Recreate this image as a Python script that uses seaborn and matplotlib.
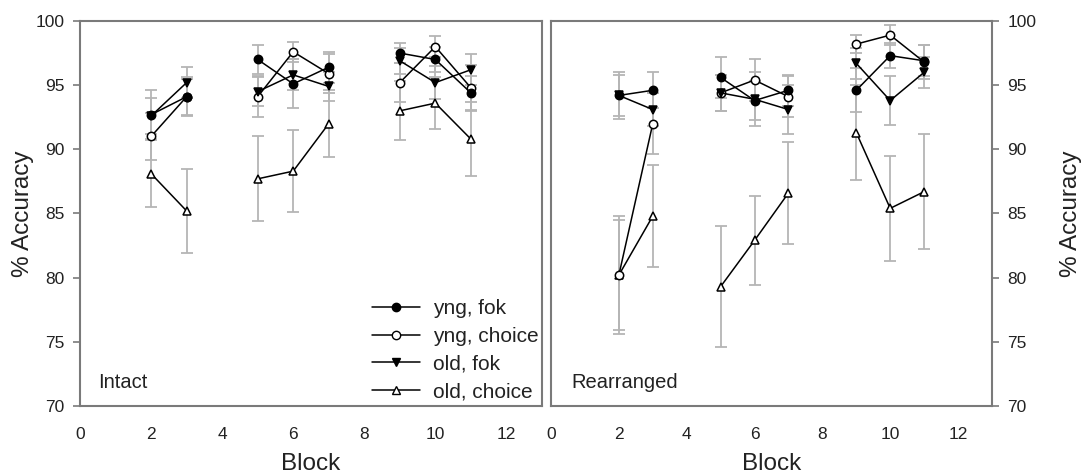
import numpy as np
import pandas as pd
import matplotlib
matplotlib.use("Agg")
import matplotlib.pyplot as plt
from matplotlib.lines import Line2D
import seaborn as sns

# --- data ---
blocks = [2, 3, 5, 6, 7, 9, 10, 11]
segments = [0, 0, 1, 1, 1, 2, 2, 2]
series_names = ["yng, fok", "yng, choice", "old, fok", "old, choice"]

# Intact
intact_yng_fok = [92.7, 94.1, 97.0, 95.1, 96.4, 97.5, 97.0, 94.4]
intact_yng_choice = [91.0, 94.1, 94.1, 97.6, 95.9, 95.2, 98.0, 94.8]
intact_old_fok = [92.6, 95.2, 94.5, 95.8, 94.9, 96.9, 95.2, 96.2]
intact_old_choice = [88.1, 85.2, 87.7, 88.3, 92.0, 93.0, 93.6, 90.8]
intact_yng_fok_err = [1.9, 1.4, 1.1, 1.9, 1.2, 0.8, 1.0, 1.3]
intact_yng_choice_err = [1.8, 1.5, 1.6, 0.8, 1.5, 1.5, 0.8, 1.8]
intact_old_fok_err = [1.4, 1.2, 1.1, 1.2, 1.1, 1.0, 1.3, 1.2]
intact_old_choice_err = [2.6, 3.3, 3.3, 3.2, 2.6, 2.3, 2.0, 2.9]

# Rearranged
rearr_yng_fok = [94.2, 94.6, 95.6, 93.8, 94.6, 94.6, 97.3, 96.9]
rearr_yng_choice = [80.2, 92.0, 94.4, 95.4, 94.1, 98.2, 98.9, 96.8]
rearr_old_fok = [94.2, 93.1, 94.4, 93.9, 93.1, 96.7, 93.8, 96.0]
rearr_old_choice = [80.2, 84.8, 79.3, 82.9, 86.6, 91.3, 85.4, 86.7]
rearr_yng_fok_err = [1.8, 1.4, 1.6, 1.5, 1.2, 1.7, 1.0, 1.2]
rearr_yng_choice_err = [4.3, 2.4, 1.4, 1.6, 1.6, 0.7, 0.8, 1.3]
rearr_old_fok_err = [1.6, 1.3, 1.4, 2.1, 1.9, 1.2, 1.9, 1.2]
rearr_old_choice_err = [4.6, 4.0, 4.7, 3.5, 4.0, 3.7, 4.1, 4.5]

panels = {
    "Intact": {
        "yng, fok": (intact_yng_fok, intact_yng_fok_err),
        "yng, choice": (intact_yng_choice, intact_yng_choice_err),
        "old, fok": (intact_old_fok, intact_old_fok_err),
        "old, choice": (intact_old_choice, intact_old_choice_err),
    },
    "Rearranged": {
        "yng, fok": (rearr_yng_fok, rearr_yng_fok_err),
        "yng, choice": (rearr_yng_choice, rearr_yng_choice_err),
        "old, fok": (rearr_old_fok, rearr_old_fok_err),
        "old, choice": (rearr_old_choice, rearr_old_choice_err),
    },
}
panel_text_x = {"Intact": 0.5, "Rearranged": 0.6}

# marker style per series
styles = {
    "yng, fok": dict(marker="o", markerfacecolor="black"),
    "yng, choice": dict(marker="o", markerfacecolor="white"),
    "old, fok": dict(marker="v", markerfacecolor="black"),
    "old, choice": dict(marker="^", markerfacecolor="white"),
}
draw_order = ["old, choice", "yng, choice", "old, fok", "yng, fok"]

sns.set_theme(style="white")
plt.rcParams["font.family"] = ["Liberation Sans", "DejaVu Sans"]
text_col = "#222222"
spine_col = "#7a7a7a"

fig = plt.figure(figsize=(10.86, 4.75), dpi=100)
ax1 = fig.add_axes([0.0737, 0.1453, 0.4253, 0.8105])
ax2 = fig.add_axes([0.5074, 0.1453, 0.4060, 0.8105])

for ax, (panel, data) in zip([ax1, ax2], panels.items()):
    # error bars first (grey, underneath)
    for name in draw_order:
        vals, errs = data[name]
        ax.errorbar(blocks, vals, yerr=errs, fmt="none", ecolor="#b5b5b5",
                    elinewidth=1.3, capsize=4, capthick=1.3, zorder=1)
    for k, name in enumerate(draw_order):
        vals, _ = data[name]
        df = pd.DataFrame({"block": blocks, "acc": vals, "seg": segments})
        sns.lineplot(data=df, x="block", y="acc", units="seg", estimator=None,
                     color="black", linewidth=1.1, ax=ax, markersize=6,
                     markeredgecolor="black", markeredgewidth=1.1,
                     zorder=3 + k, **styles[name])
    ax.set_xlim(0, 13)
    ax.set_ylim(70, 100)
    ax.set_xticks(range(0, 13, 2))
    ax.set_yticks(range(70, 101, 5))
    ax.set_xlabel("Block", fontsize=17.5, color=text_col, labelpad=8)
    ax.tick_params(axis="both", which="both", direction="out", length=5,
                   width=1.2, color=spine_col, labelsize=12.5,
                   labelcolor=text_col)
    ax.tick_params(axis="x", pad=10)
    ax.tick_params(axis="y", pad=6)
    for sp in ax.spines.values():
        sp.set_color(spine_col)
        sp.set_linewidth(1.5)
    ax.text(panel_text_x[panel], 71.8, panel, fontsize=14.5, color=text_col,
            ha="left", va="center")

ax1.set_ylabel("% Accuracy", fontsize=17.5, color=text_col)
ax1.yaxis.set_label_coords(-0.10, 0.5)
ax1.tick_params(axis="y", left=True, right=False)

ax2.yaxis.tick_right()
ax2.yaxis.set_label_position("right")
ax2.set_ylabel("% Accuracy", fontsize=17.5, color=text_col, rotation=90)
ax2.yaxis.set_label_coords(1.154, 0.5)
ax2.tick_params(axis="y", right=True, left=False)

handles = [Line2D([0], [0], color="black", linewidth=1.1, markersize=6,
                  markeredgecolor="black", **styles[n]) for n in series_names]
ax1.legend(handles, series_names, loc="lower right", frameon=False,
           fontsize=15, handlelength=2.3, labelspacing=0.42,
           handletextpad=0.6, borderaxespad=0.0,
           bbox_to_anchor=(1.01, -0.01), labelcolor=text_col)

fig.savefig("out.png", dpi=100)
